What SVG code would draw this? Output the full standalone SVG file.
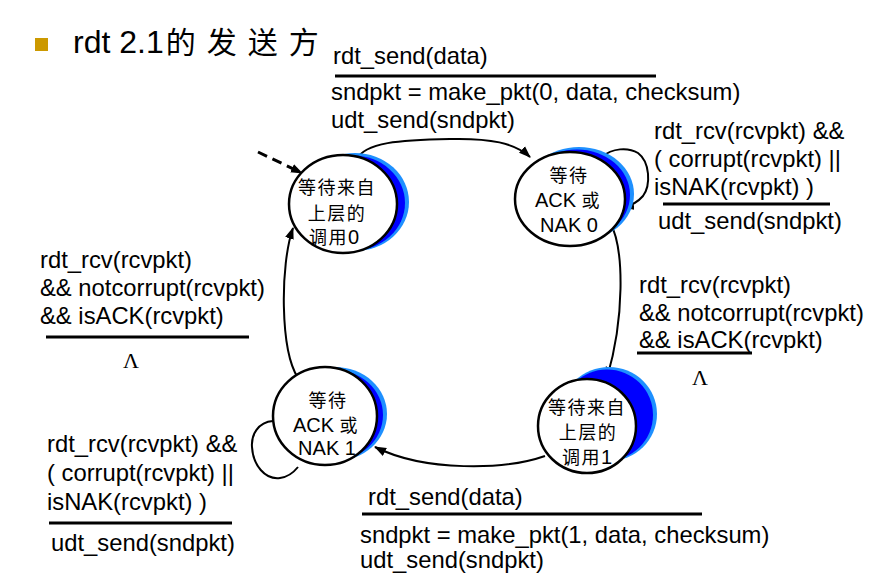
<svg xmlns="http://www.w3.org/2000/svg" width="873" height="576" viewBox="0 0 873 576">
<defs>
<marker id="ah" markerUnits="userSpaceOnUse" markerWidth="12" markerHeight="10" refX="11" refY="5" orient="auto">
<path d="M0,0.5 L12,5 L0,9.5 Z" fill="#000"/>
</marker>
<style>
.lbl{font-family:"Liberation Sans",Arial,sans-serif;font-size:23.8px;fill:#000}
.st{font-family:"Liberation Sans","Noto Sans CJK SC",sans-serif;font-size:20px;fill:#000;text-anchor:middle}
.cj{font-family:"Noto Sans CJK SC",sans-serif;font-size:18px;letter-spacing:1.5px}
.lam{font-family:"Liberation Serif","Times New Roman",serif;font-size:22px;text-anchor:middle}
.rule{stroke:#000;stroke-width:3}
.edge{fill:none;stroke:#000;stroke-width:2}
.sh1{fill:#1e90ff}
.sh2{fill:#0000ff}
.node{fill:#fff;stroke:#000;stroke-width:2.5}
</style>
</defs>
<rect width="873" height="576" fill="#fff"/>

<g id="title">
<rect x="35" y="38" width="13" height="13" fill="#cc9900"/>
<text x="73" y="53" style="font-family:'Liberation Sans',sans-serif;font-size:32px">rdt 2.1<tspan dx="2" style="font-family:'Noto Sans CJK SC',sans-serif;font-size:30px;letter-spacing:11px">的发送方</tspan></text>
</g>

<g id="connectors">
<path d="M258,152 L302,173" style="fill:none;stroke:#000;stroke-width:3;stroke-dasharray:10,6" marker-end="url(#ah)"/>
<path class="edge" d="M356,160 C365,142 400,140 450,139 C490,138 515,143 530,157" marker-end="url(#ah)"/>
<path class="edge" d="M602,157 C612,148 628,147 638,153 C650,162 651,185 643,196 C637,203 630,206 623,207" marker-end="url(#ah)"/>
<path class="edge" d="M610,222 C625,250 624,320 607,378" marker-end="url(#ah)"/>
<path class="edge" d="M545,456 C505,470 425,472 375,447" marker-end="url(#ah)"/>
<path class="edge" d="M273,421 C258,422 251,435 252,447 C253,465 265,480 280,478 C288,477 294,472 298,467"/>
<path class="edge" d="M298,378 C280,350 280,265 293,228" marker-end="url(#ah)"/>
</g>

<g id="s_wait_call0">
<ellipse class="sh1" cx="355" cy="202" rx="54" ry="49"/>
<ellipse class="sh2" cx="353" cy="203" rx="52" ry="47.5"/>
<ellipse class="node" cx="343" cy="204" rx="54" ry="49"/>
<text class="st"><tspan class="cj" x="337" y="194">等待来自</tspan><tspan class="cj" x="337" y="220">上层的</tspan><tspan x="334" y="244"><tspan class="cj">调用</tspan>0</tspan></text>
</g>

<g id="s_wait_ack0">
<ellipse class="sh1" cx="579" cy="194" rx="55" ry="47"/>
<ellipse class="sh2" cx="577" cy="195" rx="53" ry="45.5"/>
<ellipse class="node" cx="570" cy="199" rx="55" ry="47"/>
<text class="st"><tspan class="cj" x="569" y="182">等待</tspan><tspan x="568" y="207">ACK <tspan class="cj">或</tspan></tspan><tspan x="569" y="232">NAK 0</tspan></text>
</g>

<g id="s_wait_call1">
<ellipse class="sh1" cx="609" cy="414" rx="48" ry="47"/>
<ellipse class="sh2" cx="607" cy="415" rx="46" ry="45.5"/>
<ellipse class="node" cx="587" cy="426" rx="49" ry="47"/>
<text class="st"><tspan class="cj" x="587" y="414">等待来自</tspan><tspan class="cj" x="588" y="439">上层的</tspan><tspan x="587" y="464"><tspan class="cj">调用</tspan>1</tspan></text>
</g>

<g id="s_wait_ack1">
<ellipse class="sh1" cx="335" cy="414" rx="52" ry="47"/>
<ellipse class="sh2" cx="333" cy="415" rx="50" ry="45.5"/>
<ellipse class="node" cx="325" cy="416" rx="52" ry="49"/>
<text class="st"><tspan class="cj" x="328" y="407">等待</tspan><tspan x="326" y="432">ACK <tspan class="cj">或</tspan></tspan><tspan x="327" y="455">NAK 1</tspan></text>
</g>

<g id="labels">
<text class="lbl" x="333" y="64">rdt_send(data)</text>
<line class="rule" x1="335" y1="76" x2="656" y2="76"/>
<text class="lbl" x="331" y="100">sndpkt = make_pkt(0, data, checksum)</text>
<text class="lbl" x="331" y="128">udt_send(sndpkt)</text>

<text class="lbl" x="654" y="139">rdt_rcv(rcvpkt) &amp;&amp;</text>
<text class="lbl" x="654" y="167">( corrupt(rcvpkt) ||</text>
<text class="lbl" x="654" y="195">isNAK(rcvpkt) )</text>
<line class="rule" x1="663" y1="204" x2="830" y2="204"/>
<text class="lbl" x="658" y="229">udt_send(sndpkt)</text>

<text class="lbl" x="40" y="268">rdt_rcv(rcvpkt)</text>
<text class="lbl" x="40" y="296">&amp;&amp; notcorrupt(rcvpkt)</text>
<text class="lbl" x="40" y="324">&amp;&amp; isACK(rcvpkt)</text>
<line class="rule" x1="46" y1="337" x2="249" y2="337"/>
<text class="lam" x="131" y="368">Λ</text>

<text class="lbl" x="639" y="293">rdt_rcv(rcvpkt)</text>
<text class="lbl" x="639" y="321">&amp;&amp; notcorrupt(rcvpkt)</text>
<text class="lbl" x="639" y="348">&amp;&amp; isACK(rcvpkt)</text>
<line class="rule" x1="637" y1="353" x2="752" y2="353"/>
<text class="lam" x="700" y="385">Λ</text>

<text class="lbl" x="47" y="452">rdt_rcv(rcvpkt) &amp;&amp;</text>
<text class="lbl" x="47" y="481">( corrupt(rcvpkt) ||</text>
<text class="lbl" x="47" y="510">isNAK(rcvpkt) )</text>
<line class="rule" x1="49" y1="523" x2="232" y2="523"/>
<text class="lbl" x="51" y="551">udt_send(sndpkt)</text>

<text class="lbl" x="368" y="505">rdt_send(data)</text>
<line class="rule" x1="362" y1="514" x2="702" y2="514"/>
<text class="lbl" x="360" y="543">sndpkt = make_pkt(1, data, checksum)</text>
<text class="lbl" x="360" y="568">udt_send(sndpkt)</text>
</g>
</svg>
